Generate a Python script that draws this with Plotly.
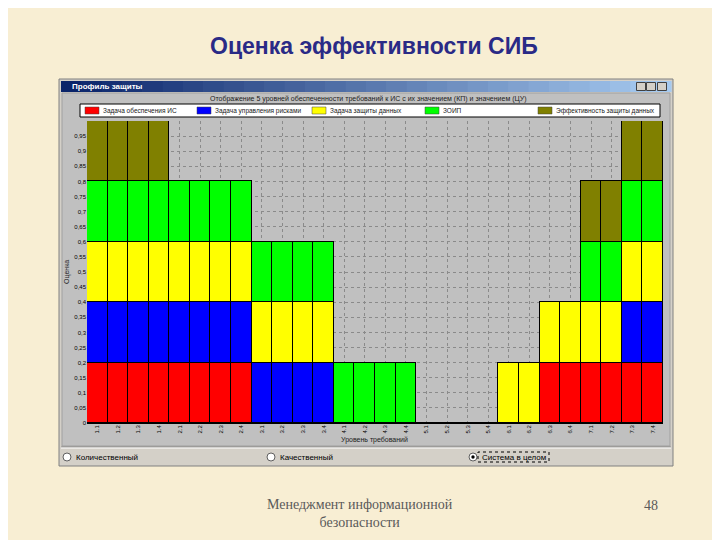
import plotly.graph_objects as go

# ---------------- data ----------------
categories = ["1.1", "1.2", "1.3", "1.4", "2.1", "2.2", "2.3", "2.4",
              "3.1", "3.2", "3.3", "3.4", "4.1", "4.2", "4.3", "4.4",
              "5.1", "5.2", "5.3", "5.4", "6.1", "6.2", "6.3", "6.4",
              "7.1", "7.2", "7.3", "7.4"]

series_names = ["Задача обеспечения ИС", "Задача управления рисками",
                "Задача защиты данных", "ЗОИП", "Эффективность защиты данных"]

red = [0.2, 0.2, 0.2, 0.2, 0.2, 0.2, 0.2, 0.2, 0, 0, 0, 0, 0, 0,
       0, 0, 0, 0, 0, 0, 0, 0, 0.2, 0.2, 0.2, 0.2, 0.2, 0.2]
blue = [0.2, 0.2, 0.2, 0.2, 0.2, 0.2, 0.2, 0.2, 0.2, 0.2, 0.2, 0.2, 0, 0,
        0, 0, 0, 0, 0, 0, 0, 0, 0, 0, 0, 0, 0.2, 0.2]
yellow = [0.2, 0.2, 0.2, 0.2, 0.2, 0.2, 0.2, 0.2, 0.2, 0.2, 0.2, 0.2, 0, 0,
          0, 0, 0, 0, 0, 0, 0.2, 0.2, 0.2, 0.2, 0.2, 0.2, 0.2, 0.2]
green = [0.2, 0.2, 0.2, 0.2, 0.2, 0.2, 0.2, 0.2, 0.2, 0.2, 0.2, 0.2, 0.2, 0.2,
         0.2, 0.2, 0, 0, 0, 0, 0, 0, 0, 0, 0.2, 0.2, 0.2, 0.2]
olive = [0.2, 0.2, 0.2, 0.2, 0, 0, 0, 0, 0, 0, 0, 0, 0, 0,
         0, 0, 0, 0, 0, 0, 0, 0, 0, 0, 0.2, 0.2, 0.2, 0.2]

y_tick_vals = [0, 0.05, 0.1, 0.15, 0.2, 0.25, 0.3, 0.35, 0.4, 0.45,
               0.5, 0.55, 0.6, 0.65, 0.7, 0.75, 0.8, 0.85, 0.9, 0.95]
y_tick_text = ["0", "0,05", "0,1", "0,15", "0,2", "0,25", "0,3", "0,35", "0,4", "0,45",
               "0,5", "0,55", "0,6", "0,65", "0,7", "0,75", "0,8", "0,85", "0,9", "0,95"]

colors = ["#FF0000", "#0000FF", "#FFFF00", "#00FF00", "#808000"]

# ---------------- geometry helpers ----------------
# the page body has an 8px margin, so the figure is placed at (8, 8) on screen
OFF = 8
FW, FH = 720 - OFF, 540 - OFF
L, R, T, B = 87, 663, 121, 423   # plot area in screen pixels
W, H = R - L, B - T


def px(x):
    return (x - L) / W


def py(y):
    return (B - y) / H


fig = go.Figure()
for name, vals, col in zip(series_names, [red, blue, yellow, green, olive], colors):
    fig.add_trace(go.Bar(x=categories, y=vals, name=name,
                         marker=dict(color=col, line=dict(color="#000000", width=1))))

shapes = []
# window body
shapes.append(dict(type="rect", xref="paper", yref="paper", x0=px(59), x1=px(673), y0=py(466), y1=py(79),
                   fillcolor="#D4D0C8", line=dict(color="#808080", width=1), layer="below"))
# title bar gradient
c0 = (10, 36, 106)
c1 = (166, 202, 240)
n = 30
x_start, x_end = 61, 671
for i in range(n):
    t = i / (n - 1)
    col = "rgb(%d,%d,%d)" % tuple(int(a + (b - a) * t) for a, b in zip(c0, c1))
    xa = x_start + (x_end - x_start) * i / n
    xb = x_start + (x_end - x_start) * (i + 1) / n + 0.6
    shapes.append(dict(type="rect", xref="paper", yref="paper", x0=px(xa), x1=px(xb), y0=py(92), y1=py(81),
                       fillcolor=col, line=dict(width=0), layer="below"))
# window buttons
for bx in (641, 651, 662):
    shapes.append(dict(type="rect", xref="paper", yref="paper", x0=px(bx - 4.5), x1=px(bx + 4.5), y0=py(90.5), y1=py(82.5),
                       fillcolor="#D4D0C8", line=dict(color="#404040", width=1), layer="below"))
# chart panel
shapes.append(dict(type="rect", xref="paper", yref="paper", x0=px(62), x1=px(670), y0=py(446), y1=py(93),
                   fillcolor="#C0C0C0", line=dict(color="#A0A0A0", width=1), layer="below"))
# separator
shapes.append(dict(type="line", xref="paper", yref="paper", x0=px(61), x1=px(671), y0=py(447), y1=py(447),
                   line=dict(color="#808080", width=1), layer="below"))
shapes.append(dict(type="line", xref="paper", yref="paper", x0=px(61), x1=px(671), y0=py(448), y1=py(448),
                   line=dict(color="#FFFFFF", width=1), layer="below"))
# legend box
shapes.append(dict(type="rect", xref="paper", yref="paper", x0=px(80), x1=px(660), y0=py(117), y1=py(104),
                   fillcolor="#FFFFFF", line=dict(color="#000000", width=1), layer="below"))
legend_x = [85, 197, 312, 425, 538]
for lx, col in zip(legend_x, colors):
    shapes.append(dict(type="rect", xref="paper", yref="paper", x0=px(lx), x1=px(lx + 14), y0=py(114), y1=py(107),
                       fillcolor=col, line=dict(color="#404040", width=0.5), layer="below"))
# radio buttons
radio_x = [67, 271, 473]
for i, rx in enumerate(radio_x):
    shapes.append(dict(type="circle", xref="paper", yref="paper", x0=px(rx - 4), x1=px(rx + 4), y0=py(461), y1=py(453),
                       fillcolor="#FFFFFF", line=dict(color="#606060", width=1), layer="below"))
    if i == 2:
        shapes.append(dict(type="circle", xref="paper", yref="paper", x0=px(rx - 1.7), x1=px(rx + 1.7), y0=py(458.7), y1=py(455.3),
                           fillcolor="#000000", line=dict(width=0), layer="below"))
# focus rectangle on selected radio
shapes.append(dict(type="rect", xref="paper", yref="paper", x0=px(478), x1=px(549), y0=py(462), y1=py(452),
                   line=dict(color="#000000", width=1, dash="dot"), layer="below"))

small = dict(family="Liberation Sans, Arial", size=7, color="#202020")
legend_font = dict(family="Liberation Sans, Arial", size=6.5, color="#202020")
annotations = [
    dict(text="<b>Оценка эффективности СИБ</b>", x=px(374), y=py(46), xref="paper", yref="paper",
         showarrow=False, xanchor="center", yanchor="middle",
         font=dict(family="Liberation Sans, Arial", size=23, color="#2A2A86")),
    dict(text="Менеджмент информационной<br>безопасности", x=px(360), y=py(513), xref="paper", yref="paper",
         showarrow=False, xanchor="center", yanchor="middle", align="center",
         font=dict(family="Liberation Serif, Times New Roman", size=14, color="#5A5A5A")),
    dict(text="48", x=px(651), y=py(505), xref="paper", yref="paper",
         showarrow=False, xanchor="center", yanchor="middle",
         font=dict(family="Liberation Serif, Times New Roman", size=14, color="#5A5A5A")),
    dict(text="<b>Профиль защиты</b>", x=px(70), y=py(86.5), xref="paper", yref="paper",
         showarrow=False, xanchor="left", yanchor="middle",
         font=dict(family="Liberation Sans, Arial", size=8, color="#FFFFFF")),
    dict(text="Отображение 5 уровней обеспеченности требований к ИС с их значением (КП) и значением (ЦУ)",
         x=px(368), y=py(99), xref="paper", yref="paper",
         showarrow=False, xanchor="center", yanchor="middle", font=small),
    dict(text="Уровень требований", x=px(374), y=py(440), xref="paper", yref="paper",
         showarrow=False, xanchor="center", yanchor="middle", font=small),
    dict(text="Оценка", x=px(67), y=py(272), xref="paper", yref="paper", textangle=-90,
         showarrow=False, xanchor="center", yanchor="middle", font=small),
]
for lx, name in zip(legend_x, series_names):
    annotations.append(dict(text=name, x=px(lx + 16), y=py(110.5), xref="paper", yref="paper",
                            showarrow=False, xanchor="left", yanchor="middle", font=legend_font))
radio_text = ["Количественный", "Качественный", "Система в целом"]
for rx, tx in zip(radio_x, radio_text):
    annotations.append(dict(text=tx, x=px(rx + 7), y=py(457), xref="paper", yref="paper",
                            showarrow=False, xanchor="left", yanchor="middle",
                            font=dict(family="Liberation Sans, Arial", size=8, color="#000000")))

fig.update_layout(
    width=FW, height=FH,
    margin=dict(l=L - OFF, r=FW - (R - OFF), t=T - OFF, b=FH - (B - OFF), pad=0, autoexpand=False),
    paper_bgcolor="#F8EED3",
    plot_bgcolor="#C0C0C0",
    barmode="stack", bargap=0,
    showlegend=False,
    xaxis=dict(type="category", showgrid=True, gridcolor="#8A8A8A", griddash="3px,3px", gridwidth=1,
               tickangle=-90, tickfont=dict(family="Liberation Sans, Arial", size=6, color="#000000"),
               ticks="", showline=False, range=[-0.5, 27.5], fixedrange=True, automargin=False),
    yaxis=dict(range=[0, 1], tickvals=y_tick_vals, ticktext=y_tick_text,
               showgrid=True, gridcolor="#8A8A8A", griddash="3px,3px", gridwidth=1,
               tickfont=dict(family="Liberation Sans, Arial", size=6, color="#000000"),
               zeroline=True, zerolinecolor="#000000", zerolinewidth=2,
               ticks="", showline=False, fixedrange=True, automargin=False),
    shapes=shapes,
    annotations=annotations,
)

fig.write_html("out.html")
